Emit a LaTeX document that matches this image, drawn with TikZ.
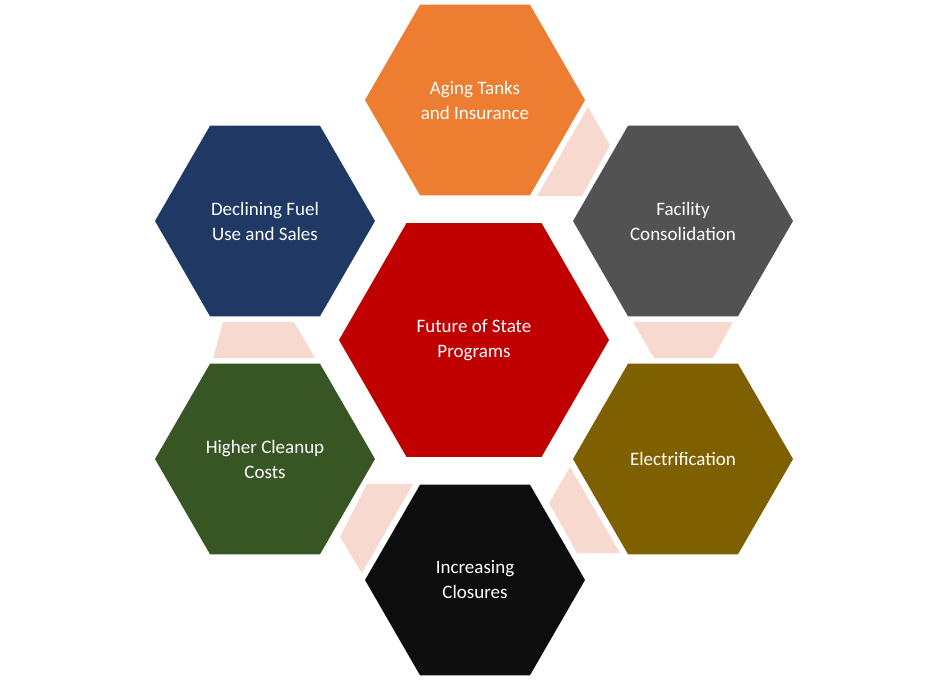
\documentclass[tikz,border=0pt]{standalone}
\usepackage{fontspec}
\setmainfont{Carlito}
\usetikzlibrary{shapes.geometric}
\begin{document}
\begin{tikzpicture}[x=1pt,y=-1pt,
  hexa/.style={regular polygon,regular polygon sides=6,minimum size=220pt,inner sep=0pt,outer sep=0pt,text=white,align=center,font=\fontsize{19}{25}\selectfont},
  link/.style={fill=pink0}]
\definecolor{pink0}{HTML}{F8D9CF}
\useasboundingbox (0,0) rectangle (947,681);
\fill[link] (588,107) -- (610,145) -- (582,196) -- (537,196) -- cycle;
\fill[link] (633,322) -- (733,322) -- (713,358) -- (654,358) -- cycle;
\fill[link] (223,322) -- (294,322) -- (315,358) -- (213,358) -- cycle;
\fill[link] (367,484) -- (413,484) -- (362,573) -- (340,537) -- cycle;
\fill[link] (549,503) -- (570,467) -- (620,553) -- (577,553) -- cycle;
\node[hexa,fill={rgb,255:red,192;green,0;blue,0},minimum size=270pt] (c) at (474,340) {Future of State\\Programs};
\node[hexa,fill={rgb,255:red,237;green,125;blue,49}] (t) at (475,100) {Aging Tanks\\and Insurance};
\node[hexa,fill={rgb,255:red,82;green,82;blue,82}] (ur) at (683,221) {Facility\\Consolidation};
\node[hexa,fill={rgb,255:red,127;green,96;blue,0}] (lr) at (683,459) {Electrification};
\node[hexa,fill={rgb,255:red,13;green,13;blue,13}] (b) at (475,580) {Increasing\\Closures};
\node[hexa,fill={rgb,255:red,55;green,86;blue,35}] (ll) at (265,459) {Higher Cleanup\\Costs};
\node[hexa,fill={rgb,255:red,31;green,56;blue,100}] (ul) at (265,221) {Declining Fuel\\Use and Sales};
\end{tikzpicture}
\end{document}
